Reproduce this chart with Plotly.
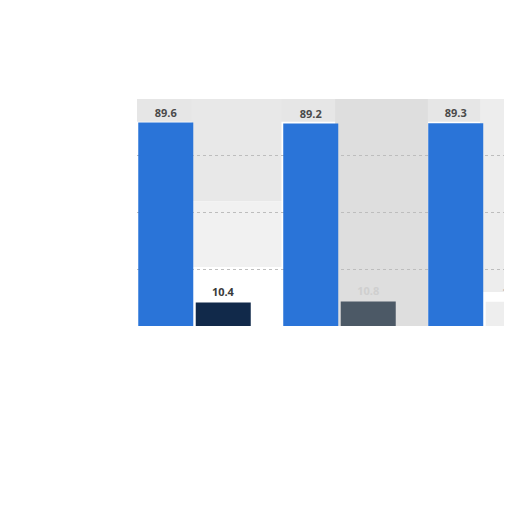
import plotly.graph_objects as go

# groups (labels are not readable in the source, kept hidden)
groups = ['A', 'B', 'C']
share_main = [89.6, 89.2, 89.3]
share_other = [10.4, 10.8, 10.7]

main_color = '#2a74d8'
other_colors = ['#11294a', '#4c5966', '#eeeeee']
other_text = ['#3a3a3a', '#cfcfcf', '#b0b0b0']

fig = go.Figure()

fig.add_trace(go.Bar(
    x=groups, y=share_main, name='main',
    marker=dict(color=main_color, line=dict(width=0)),
    text=[f'{v:.1f}' for v in share_main], textposition='outside',
    textfont=dict(family='Open Sans', size=11, color='#4a4a4a', weight='bold'),
    cliponaxis=False,
))
fig.add_trace(go.Bar(
    x=groups, y=share_other, name='other',
    marker=dict(color=other_colors, line=dict(width=0)),
    text=[f'{v:.1f}' for v in share_other], textposition='outside',
    textfont=dict(family='Open Sans', size=11, color=other_text, weight='bold'),
    cliponaxis=False,
))

# blurred grey background patches
shapes = [
    dict(type='rect', xref='x', yref='y', x0=-0.58, x1=2.08, y0=90, y1=103,
         fillcolor='#e6e6e6', line_width=0, layer='below'),
    dict(type='rect', xref='x', yref='y', x0=-0.02, x1=0.60, y0=55, y1=100,
         fillcolor='#e8e8e8', line_width=0, layer='below'),
    dict(type='rect', xref='x', yref='y', x0=-0.02, x1=0.60, y0=26, y1=55,
         fillcolor='#f1f1f1', line_width=0, layer='below'),
    dict(type='rect', xref='x', yref='y', x0=0.97, x1=1.61, y0=0, y1=102,
         fillcolor='#dedede', line_width=0, layer='below'),
    dict(type='rect', xref='x', yref='y', x0=1.97, x1=2.3, y0=15, y1=100,
         fillcolor='#ededed', line_width=0, layer='below'),
]

fig.update_layout(
    width=512, height=512,
    margin=dict(l=129, r=0, t=91, b=194),
    paper_bgcolor='white', plot_bgcolor='white',
    barmode='group', bargap=0.207, bargroupgap=0.043,
    showlegend=False,
    shapes=shapes,
    xaxis=dict(range=[-0.3966, 2.245], showticklabels=False, showgrid=False,
               zeroline=False, ticks=''),
    yaxis=dict(range=[0, 100], showticklabels=False, showgrid=True,
               gridcolor='#bdbdbd', griddash='dot', gridwidth=1,
               tickvals=[25, 50, 75], zeroline=False, ticks=''),
)

fig.write_html('out.html')
